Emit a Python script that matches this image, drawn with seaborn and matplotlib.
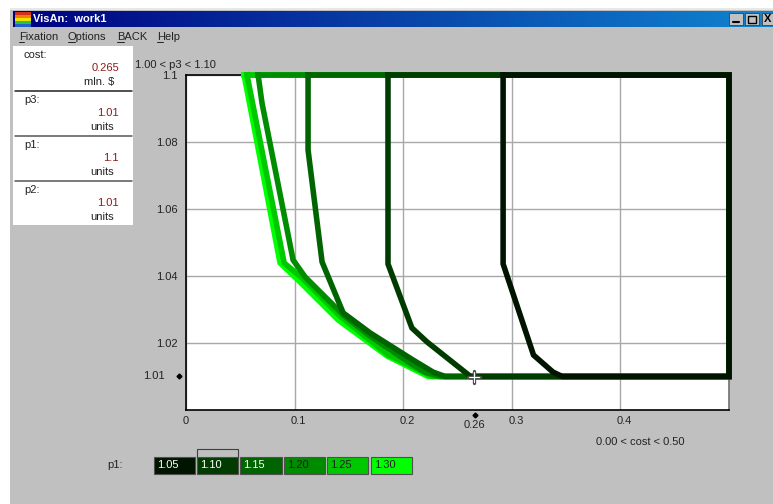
import matplotlib
matplotlib.use('Agg')
import matplotlib.pyplot as plt
from matplotlib.patches import Rectangle
from matplotlib.transforms import ScaledTranslation
import numpy as np
import pandas as pd
import seaborn as sns

P1_LEVELS = ['1.05', '1.10', '1.15', '1.20', '1.25', '1.30']
P1_COLORS = ['#001400', '#003C00', '#006400', '#008C00', '#00C800', '#00FF00']

COST_105 = [0.292, 0.292, 0.320, 0.338, 0.3465, 0.5, 0.5, 0.292]
P3_105 = [1.10, 1.0436, 1.0164, 1.0113, 1.01, 1.01, 1.10, 1.10]
COST_110 = [0.186, 0.186, 0.208, 0.222, 0.262, 0.5, 0.5, 0.186]
P3_110 = [1.10, 1.0436, 1.0245, 1.0203, 1.01, 1.01, 1.10, 1.10]
COST_115 = [0.1124, 0.1124, 0.1253, 0.1447, 0.1696, 0.2092, 0.2276, 0.2387, 0.5, 0.5, 0.1124]
P3_115 = [1.10, 1.0776, 1.0442, 1.029, 1.023, 1.0149, 1.0113, 1.01, 1.01, 1.10, 1.10]
COST_120 = [0.0664, 0.07, 0.0986, 0.1097, 0.1447, 0.168, 0.205, 0.22, 0.234, 0.5, 0.5, 0.0664]
P3_120 = [1.10, 1.0916, 1.0448, 1.0397, 1.0284, 1.0224, 1.0143, 1.0113, 1.01, 1.01, 1.10, 1.10]
COST_125 = [0.0562, 0.0904, 0.1069, 0.1419, 0.186, 0.2267, 0.5, 0.5, 0.0562]
P3_125 = [1.10, 1.0439, 1.0394, 1.028, 1.0165, 1.01, 1.01, 1.10, 1.10]
COST_130 = [0.0535, 0.0866, 0.105, 0.14, 0.1853, 0.223, 0.5, 0.5, 0.0535]
P3_130 = [1.10, 1.0439, 1.0382, 1.0269, 1.0161, 1.01, 1.01, 1.10, 1.10]

X_TICKS = [0, 0.1, 0.2, 0.3, 0.4]
X_LABELS = ['0', '0.1', '0.2', '0.3', '0.4']
Y_TICKS = [1.02, 1.04, 1.06, 1.08, 1.10]
Y_LABELS = ['1.02', '1.04', '1.06', '1.08', '1.1']

PANEL_NAMES = ['cost:', 'p3:', 'p1:', 'p2:']
PANEL_VALUES = ['0.265', '1.01', '1.1', '1.01']
PANEL_UNITS = ['mln. $', 'units', 'units', 'units']

W, H = 773, 504
GRAY = '#C0C0C0'
TEXT = '#222222'
FONT = 'Liberation Sans'
FS = 8

sns.set_theme(style='white')
plt.rcParams['font.family'] = [FONT, 'DejaVu Sans']

frames = []
curves = [(COST_105, P3_105), (COST_110, P3_110), (COST_115, P3_115),
          (COST_120, P3_120), (COST_125, P3_125), (COST_130, P3_130)]
for level, (cost, p3) in zip(P1_LEVELS, curves):
    frames.append(pd.DataFrame({'cost': cost, 'p3': p3, 'p1': level}))
df = pd.concat(frames, ignore_index=True)

fig = plt.figure(figsize=(W / 100, H / 100), dpi=100, facecolor='white')

# window chrome, in pixel coordinates
bg = fig.add_axes([0, 0, 1, 1], zorder=0)
bg.set_xlim(0, W)
bg.set_ylim(H, 0)
bg.axis('off')


def box(x0, y0, x1, y1, fc, ec='none', lw=0, z=1):
    bg.add_patch(Rectangle((x0, y0), x1 - x0, y1 - y0, fc=fc, ec=ec, lw=lw, zorder=z))


box(10, 8, W, H, GRAY)
box(10, 8, W, 9.5, '#E8E8E8')

grad = np.linspace(0, 1, 256)[None, :, None]
start = np.array([0, 0, 128])[None, None, :]
end = np.array([16, 132, 208])[None, None, :]
bg.imshow((start + (end - start) * grad) / 255, extent=(13, W, 27, 11),
          aspect='auto', zorder=1)
bg.set_xlim(0, W)
bg.set_ylim(H, 0)

for i, c in enumerate(['#D03020', '#F08000', '#F0E000', '#30C030', '#2060D0']):
    box(15, 12 + i * 3, 31, 15 + i * 3, c, z=2)
bg.text(33, 19.5, 'VisAn:  work1', color='white', fontsize=8, fontweight='bold',
        va='center', ha='left')

for x0, x1 in [(729, 743), (745, 759), (762, 773)]:
    box(x0, 13, x1, 25, GRAY, ec='#404040', lw=0.6, z=2)
bg.plot([733, 739], [22, 22], color='black', lw=1.5, zorder=3)
box(748, 15.5, 756, 22.5, 'none', ec='black', lw=1, z=3)
bg.text(767.5, 19, 'X', color='black', fontsize=8, fontweight='bold',
        ha='center', va='center', zorder=3)

for label, x, ux in [('Fixation', 19, 24), ('Options', 68, 75),
                     ('BACK', 117, 124), ('Help', 157, 163)]:
    bg.text(x, 37, label, color=TEXT, fontsize=FS, ha='left', va='center')
    bg.plot([x, ux], [42, 42], color=TEXT, lw=0.7, zorder=3)

# left read-out panel
box(13, 46, 133, 225, 'white', z=2)
for i in range(4):
    top = 46 + i * 45
    bg.text(24, top + 9, PANEL_NAMES[i], color=TEXT, fontsize=FS, va='center', zorder=3)
    bg.text(119, top + 22, PANEL_VALUES[i], color='#8B1A1A', fontsize=FS, ha='right',
            va='center', zorder=3)
    bg.text(114, top + 36, PANEL_UNITS[i], color=TEXT, fontsize=FS, ha='right',
            va='center', zorder=3)
    if i:
        bg.plot([15, 132], [top, top], color='#202020' if i == 1 else '#555555',
                lw=1.1, zorder=3)

# colour key
bg.text(107, 465, 'p1:', color=TEXT, fontsize=FS, va='center')
key_x = [(154, 195), (197, 238), (240, 282), (284, 325), (327, 368), (371, 412)]
box(197, 448.5, 238, 458, GRAY, ec='#404040', lw=0.8, z=2)
for level, color, (x0, x1) in zip(P1_LEVELS, P1_COLORS, key_x):
    box(x0, 457, x1, 474, color, ec='#505050', lw=0.8, z=3)
    tc = 'white' if level in P1_LEVELS[:3] else '#202020'
    bg.text(x0 + 3, 465.5, level, color=tc, fontsize=FS, va='center', zorder=4)

# chart
L, R, T, B = 186, 729, 75, 410
ax = fig.add_axes([L / W, 1 - B / H, (R - L) / W, (B - T) / H], zorder=2, facecolor='white')
palette = dict(zip(P1_LEVELS, P1_COLORS))
sns.lineplot(data=df, x='cost', y='p3', hue='p1', hue_order=P1_LEVELS[::-1],
             palette=palette, estimator=None, sort=False, units='p1', lw=4,
             legend=False, ax=ax, clip_on=False, solid_joinstyle='miter',
             solid_capstyle='projecting', zorder=3)
ax.set_xlim(0, 0.5)
ax.set_ylim(1.0, 1.1)
ax.set_xticks(X_TICKS, X_LABELS)
ax.set_yticks(Y_TICKS, Y_LABELS)
ax.set_xlabel('')
ax.set_ylabel('')
ax.grid(True, color='#A8A8A8', lw=1)
ax.set_axisbelow(True)
ax.tick_params(axis='both', length=0, labelsize=FS, labelcolor=TEXT)
ax.tick_params(axis='x', pad=4)
ax.tick_params(axis='y', pad=6)
# the non-zero cost labels sit a little right of their grid lines
shift = ScaledTranslation(3 / 72, 0, fig.dpi_scale_trans)
for lab in ax.get_xticklabels()[1:]:
    lab.set_transform(lab.get_transform() + shift)
for side in ax.spines:
    ax.spines[side].set_visible(True)
    ax.spines[side].set_color('black')
    ax.spines[side].set_linewidth(1.2)
ax.spines['right'].set_color('#707070')

fig_text = dict(color=TEXT, fontsize=FS, va='center', zorder=4)
bg.text(135, 65, '1.00 < p3 < 1.10', ha='left', **fig_text)
bg.text(596, 442, '0.00 < cost < 0.50', ha='left', **fig_text)
bg.text(143, 376, '1.01', ha='left', **fig_text)
bg.text(474, 425, '0.26', ha='center', **fig_text)
bg.plot([178.5], [376], marker='D', ms=2.5, color='black', zorder=4)
bg.plot([475], [415], marker='D', ms=2.5, color='black', zorder=4)

# crosshair cursor at the fixation point
cross = fig.add_axes([0, 0, 1, 1], zorder=3)
cross.set_xlim(0, W)
cross.set_ylim(H, 0)
cross.axis('off')
cross.plot([468, 480], [376.5, 376.5], color='#505050', lw=2.4)
cross.plot([474, 474], [370.5, 382.5], color='#505050', lw=2.4)
cross.plot([469, 479], [376.5, 376.5], color='white', lw=0.8)
cross.plot([474, 474], [371.5, 381.5], color='white', lw=0.8)

fig.savefig('out.png', dpi=100, facecolor=fig.get_facecolor())
